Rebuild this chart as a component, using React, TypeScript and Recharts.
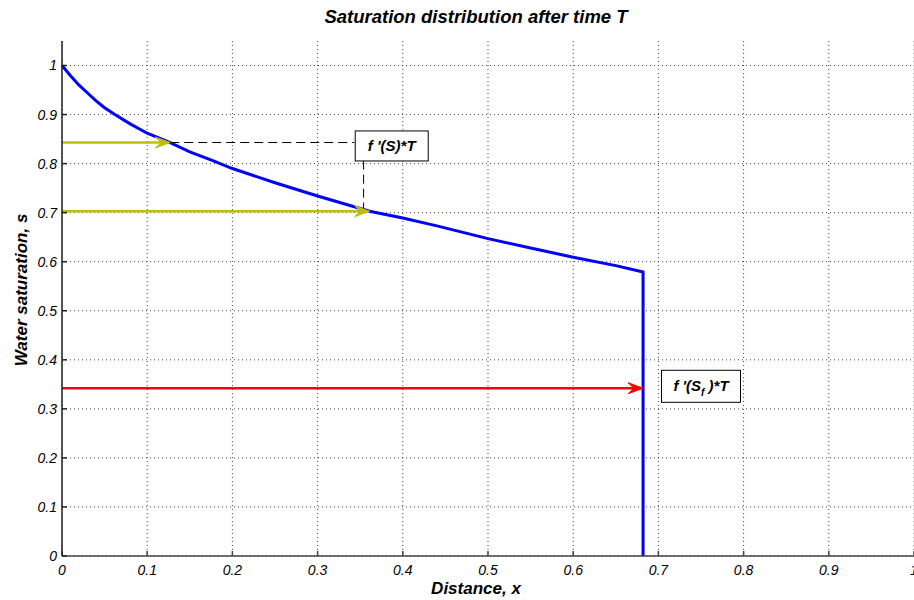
import { CartesianGrid, Line, LineChart, ReferenceDot, ReferenceLine, XAxis, YAxis } from 'recharts'

// saturation profile s(x) after time T
const distance = [0, 0.01, 0.02, 0.03, 0.04, 0.05, 0.062, 0.08, 0.1, 0.127, 0.15, 0.177, 0.2, 0.25, 0.3, 0.361, 0.4, 0.44, 0.5, 0.55, 0.6, 0.65, 0.682, 0.682]
const saturation = [1, 0.979, 0.96, 0.944, 0.928, 0.914, 0.9, 0.881, 0.862, 0.843, 0.824, 0.806, 0.79, 0.761, 0.734, 0.703, 0.689, 0.673, 0.647, 0.628, 0.609, 0.592, 0.579, 0]

const xTicks = [0, 0.1, 0.2, 0.3, 0.4, 0.5, 0.6, 0.7, 0.8, 0.9, 1]
const yTicks = [0, 0.1, 0.2, 0.3, 0.4, 0.5, 0.6, 0.7, 0.8, 0.9, 1]

// horizontal arrows from the s-axis to the profile
const yellowArrowS = [0.843, 0.703]
const yellowArrowX = [0.127, 0.361]
const redArrowS = 0.342
const redArrowX = 0.682

// dashed connectors to the f'(S)*T label
const dashSegments = [
  [{ x: 0.127, y: 0.843 }, { x: 0.343, y: 0.843 }],
  [{ x: 0.354, y: 0.806 }, { x: 0.354, y: 0.706 }],
]

const data = distance.map((x, i) => ({ x, s: saturation[i] }))

const fmt = (v: number) => (v === 0 ? '0' : v === 1 ? '1' : v.toFixed(1))

const font = 'Liberation Sans, Arial, sans-serif'
const tickStyle = { fontSize: 14, fill: '#000', fontStyle: 'italic', fontFamily: font }

function arrowShape(color: string, width: number) {
  return (props: any) => {
    const { x1, y1, x2, y2 } = props
    const L = 15
    const W = 5.5
    return (
      <g>
        <line x1={x1} y1={y1} x2={x2 - L * 0.6} y2={y2} stroke={color} strokeWidth={width} />
        <polygon
          points={`${x2},${y2} ${x2 - L},${y2 - W} ${x2 - L * 0.6},${y2} ${x2 - L},${y2 + W}`}
          fill={color}
          stroke={color}
          strokeWidth={1}
        />
      </g>
    )
  }
}

function boxLabel(w: number, h: number, sub: boolean) {
  return (props: any) => {
    const { cx, cy } = props
    return (
      <g>
        <rect x={cx - w / 2} y={cy - h / 2} width={w} height={h} fill="#fff" stroke="#000" strokeWidth={1} />
        <text x={cx} y={cy + 5} textAnchor="middle" fontSize={15} fontWeight="bold" fontStyle="italic" fontFamily={font}>
          {sub ? (
            <>
              f &apos;(S<tspan fontSize={10} dy={5}>f</tspan>
              <tspan dy={-5}> )*T</tspan>
            </>
          ) : (
            "f '(S)*T"
          )}
        </text>
      </g>
    )
  }
}

export default function App() {
  return (
    <div style={{ position: 'absolute', left: 0, top: 0, width: 914, height: 600, background: '#fff', fontFamily: font }}>
      <div style={{ position: 'absolute', left: 276, width: 400, top: 6, textAlign: 'center', fontSize: 18.5, fontWeight: 'bold', fontStyle: 'italic' }}>
        Saturation distribution after time T
      </div>
      <div style={{ position: 'absolute', left: 376, width: 200, top: 579, lineHeight: '20px', textAlign: 'center', fontSize: 17, fontWeight: 'bold', fontStyle: 'italic' }}>
        Distance, x
      </div>
      <div
        style={{
          position: 'absolute',
          left: 22,
          top: 290,
          transform: 'translate(-50%, -50%) rotate(-90deg)',
          whiteSpace: 'nowrap',
          fontSize: 17,
          fontWeight: 'bold',
          fontStyle: 'italic',
        }}
      >
        Water saturation, s
      </div>
      <LineChart width={914} height={600} data={data} margin={{ top: 41, right: 0, left: 0, bottom: 0 }} style={{ position: 'absolute', left: 0, top: 0 }}>
        <CartesianGrid stroke="#444" strokeDasharray="1 3" horizontalValues={yTicks} verticalValues={xTicks} />
        <XAxis
          dataKey="x"
          type="number"
          domain={[0, 1]}
          ticks={xTicks}
          tickFormatter={fmt}
          height={44}
          tickSize={-5}
          tickMargin={14}
          tick={tickStyle}
          stroke="#444"
          strokeWidth={1.5}
          interval={0}
        />
        <XAxis xAxisId="top" orientation="top" type="number" domain={[0, 1]} ticks={xTicks} height={0} tickSize={-5} tick={false} stroke="#444" strokeWidth={1.5} />
        <YAxis
          type="number"
          domain={[0, 1.05]}
          ticks={yTicks}
          tickFormatter={fmt}
          width={62}
          tickSize={-5}
          tickMargin={10}
          tick={tickStyle}
          stroke="#222"
          strokeWidth={1.5}
          interval={0}
        />
        <YAxis yAxisId="right" orientation="right" type="number" domain={[0, 1.05]} ticks={yTicks} width={0} tickSize={-5} tick={false} stroke="#444" strokeWidth={1.5} />
        <Line type="linear" dataKey="s" stroke="#0000ff" strokeWidth={3} dot={false} isAnimationActive={false} />
        {dashSegments.map((seg, i) => (
          <ReferenceLine key={`d${i}`} segment={seg} stroke="#000" strokeWidth={1} strokeDasharray="9 5" />
        ))}
        {yellowArrowS.map((s, i) => (
          <ReferenceLine
            key={`y${i}`}
            segment={[{ x: 0, y: s }, { x: yellowArrowX[i], y: s }]}
            shape={arrowShape('#bfbf00', 2.5)}
          />
        ))}
        <ReferenceLine segment={[{ x: 0, y: redArrowS }, { x: redArrowX, y: redArrowS }]} shape={arrowShape('#ff0000', 2.5)} />
        <ReferenceDot x={0.387} y={0.836} shape={boxLabel(73, 30, false)} />
        <ReferenceDot x={0.75} y={0.346} shape={boxLabel(79, 32, true)} />
      </LineChart>
    </div>
  )
}
